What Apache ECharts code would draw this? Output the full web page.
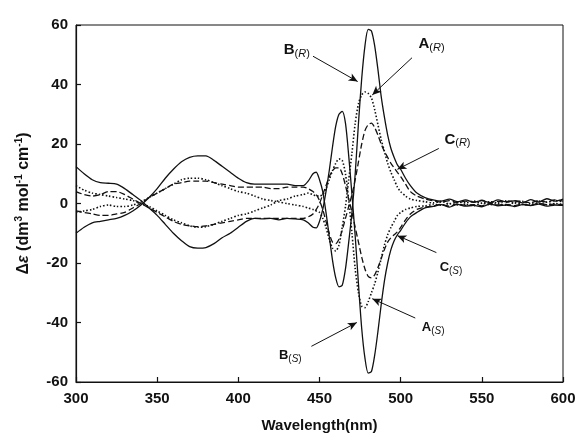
<!DOCTYPE html>
<html>
<head>
<meta charset="utf-8">
<script src="https://cdn.jsdelivr.net/npm/echarts@6/dist/echarts.min.js"></script>
<style>html,body{margin:0;padding:0;background:#fff;}#c{width:579px;height:438px;}</style>
</head>
<body>
<div id="c"></div>
<script>
// Wavelength (nm)
const wavelengths = [
  300,305,310,315,320,325,330,335,340,345,350,355,360,365,370,375,380,385,390,395,400,405,410,415,420,425,430,435,440,
  443,446,448,
  450,452,454,456,458,460,462,464,466,468,470,472,474,476,478,480,482,484,486,488,490,492,494,496,498,500,
  503,506,510,
  515,520,525,530,535,540,545,550,555,560,565,570,575,580,585,590,595,600
];
// Solid lines
const B_R = [
  -10,-8,-6.5,-6,-5.5,-5,-4,-2.5,-0.5,2,5,8.5,11.5,14,15.5,16,16,14.5,12.5,10.5,8.5,7,6.5,6.5,6.5,6.5,6.5,6,6,
  7.5,10,10.5,
  8,4,-3,-11,-19,-25,-28,-27.5,-22,-13,-3,10,27,42,53,58.5,58,53,45,36,29,23,18.5,15.5,13,11.5,
  8.5,6,3.5,
  2,1.2,0.8,1.5,0.6,1.2,0.4,1.0,0.3,1.2,0.6,0.9,0.2,1.3,0.5,1.6,0.8,1.5
];
const B_S = [
  12.4,10,8,7,6.8,6.5,5,3,1,-1.5,-4,-7,-10,-12.5,-14.5,-15,-14.8,-13.5,-11.5,-10,-8,-6,-5,-5.2,-5,-5.5,-5,-5.2,-5.5,
  -6.5,-8,-8.2,
  -6,-2,4,11,19,26,30,31,27,16,3,-11,-27,-42,-52,-57,-56.5,-51,-43,-34,-26,-20,-15.5,-12.5,-10.5,-9,
  -6.5,-4.5,-3,
  -1.5,-1.0,-0.4,-1.2,-0.3,-0.9,-0.6,-1.1,-0.2,-0.8,-0.5,-1.0,-0.4,-0.7,-0.2,-0.9,-0.5,-0.6
];
// Dotted lines
const A_R = [
  -3,-2.5,-2,-1,-0.5,-1,-1,-0.5,0.5,2,3.5,5,6.5,8,8.5,8.5,8,7,6,5,4,3.5,2.5,1.5,1,0.5,0,-0.5,-1,
  -1.5,-2,-2.5,
  -3,-5,-8,-12,-15,-16,-14,-8,-1,8,17,27,33.5,36.5,37.5,37,35.5,31.5,26.5,21.5,17.5,13.5,10.5,8,5.5,4,
  2.5,1.5,1,
  0.6,0.2,0.7,-0.1,0.5,0.3,0.8,0.1,0.6,0.2,0.9,0.3,0.7,0.0,0.8,0.4,1.0,0.5
];
const A_S = [
  6,4.5,3.5,3,2.5,2,1.5,1,0,-1,-2.5,-4,-5.5,-6.5,-7.5,-8,-7.8,-7,-6,-5,-4,-3.5,-2.5,-1.5,-0.5,1,1.5,2.5,3,
  3.5,3,2.5,
  2.5,3,5,8,11,13.5,15,14.5,10,1,-10,-22,-30,-34.5,-35,-33,-30,-27,-23,-18.5,-14,-10.5,-8,-6,-4,-3,
  -2,-1.5,-1,
  -0.8,-0.3,-0.6,0.0,-0.5,-0.2,-0.7,0.1,-0.4,-0.1,-0.6,0.2,-0.3,-0.5,0.1,-0.4,0.0,-0.3
];
// Dashed lines
const C_R = [
  -2.5,-3,-3.5,-4,-4,-3.5,-3,-1.5,0,2,3.5,5,6.5,7,7.5,7.5,7.5,7,6.5,6,5.5,5.5,5.5,5.5,5,5,5.5,5.5,5.5,
  5,4,3,
  1,-2,-6,-10,-13,-13.5,-12,-9,-5,-1,3,8,14,20,24.5,26.5,27,25.5,23,20,17.5,15.5,13.5,12,10.5,9,
  6.5,4,2.5,
  1.5,0.9,0.4,1.0,0.3,0.8,0.5,1.1,0.2,0.7,0.4,1.0,0.6,0.3,0.9,0.5,1.2,0.8
];
const C_S = [
  4,3,2.5,3,4,4,3,1.5,0,-1.5,-3,-4.5,-6,-7,-7.5,-7.8,-7.5,-7,-6.5,-6,-5.5,-5,-5,-5,-5,-5,-5,-5,-5,
  -4.5,-3.5,-2,
  0,3,6,9,11,12,12,10,6,1.5,-3,-8,-13,-18,-22,-24.5,-25,-24,-21.5,-18.5,-15.5,-13,-11.5,-10.5,-9.5,-8,
  -5.5,-3.5,-2,
  -1.2,-0.8,-0.3,-0.9,-0.1,-0.6,-0.4,-0.8,0.0,-0.5,-0.3,-0.7,-0.2,-0.6,0.1,-0.4,-0.2,-0.5
];
const xTicks = [300, 350, 400, 450, 500, 550, 600];
const yTicks = [-60, -40, -20, 0, 20, 40, 60];

// Annotation labels
const labelNames = ['B', 'A', 'C', 'C', 'A', 'B'];
const labelConfigs = ['R', 'R', 'R', 'S', 'S', 'S'];
const labelPos = [[436, 51.5], [519, 53.5], [535, 21.5], [531, -21.5], [520, -41.5], [432, -51]];
// Arrows: [fromX, fromY, toX, toY]
const arrows = [
  [446, 49.5, 473.5, 41],
  [507, 49, 482.5, 36.5],
  [523.5, 18.5, 498, 11.5],
  [522, -16.5, 498, -10.8],
  [509, -38.5, 482.5, -32],
  [445, -48, 473, -40]
];

const toPairs = v => wavelengths.map((w, i) => [w, v[i]]);
const chart = echarts.init(document.getElementById('c'), null, {renderer: 'canvas'});
const FONT = 'Liberation Sans, Arial, Helvetica, sans-serif';

function lineSeries(name, vals, type, width) {
  return {
    name, type: 'line', data: toPairs(vals), showSymbol: false, smooth: 0.25,
    lineStyle: {color: '#111', width: width, type: type},
    animation: false, silent: true, z: 3
  };
}

const series = [
  lineSeries('B(R)', B_R, 'solid', 1.3),
  lineSeries('B(S)', B_S, 'solid', 1.3),
  lineSeries('A(R)', A_R, [1.5, 2], 1.6),
  lineSeries('A(S)', A_S, [1.5, 2], 1.6),
  lineSeries('C(R)', C_R, [6, 3], 1.3),
  lineSeries('C(S)', C_S, [6, 3], 1.3)
];

const big = [true, true, true, false, false, false];
series[0].markLine = {
  silent: true, animation: false,
  symbol: ['none', 'arrow'], symbolSize: [6, 9],
  lineStyle: {color: '#111', width: 1, type: 'solid'},
  label: {show: false},
  data: arrows.map(a => [{coord: [a[0], a[1]]}, {coord: [a[2], a[3]]}])
};
series[0].markPoint = {
  silent: true, animation: false,
  symbol: 'circle', symbolSize: 0,
  itemStyle: {color: 'rgba(0,0,0,0)'},
  data: labelPos.map((p, i) => ({
    coord: p,
    label: {
      show: true, position: 'inside',
      formatter: '{m|' + labelNames[i] + '}{s|(}{i|' + labelConfigs[i] + '}{s|)}',
      rich: {
        m: {fontFamily: FONT, fontWeight: 'bold', fontSize: big[i] ? 15 : 13, color: '#111', lineHeight: 18},
        s: {fontFamily: FONT, fontSize: big[i] ? 11 : 10, color: '#111', lineHeight: 11, verticalAlign: 'bottom'},
        i: {fontFamily: FONT, fontStyle: 'italic', fontSize: big[i] ? 11 : 10, color: '#111', lineHeight: 11, verticalAlign: 'bottom'}
      }
    }
  }))
};

chart.setOption({
  backgroundColor: '#fff',
  animation: false,
  grid: {left: 76, right: 16, top: 25, bottom: 56, show: true, borderColor: '#111', borderWidth: 1, backgroundColor: 'transparent'},
  xAxis: {
    type: 'value', min: xTicks[0], max: xTicks[xTicks.length - 1], interval: 50,
    name: 'Wavelength(nm)', nameLocation: 'middle', nameGap: 36,
    nameTextStyle: {fontFamily: FONT, fontWeight: 'bold', fontSize: 15, color: '#111'},
    axisLine: {show: true, onZero: false, lineStyle: {color: '#111', width: 1.2}},
    axisTick: {show: true, inside: true, length: 5, lineStyle: {color: '#111', width: 1.2}},
    axisLabel: {fontFamily: FONT, fontWeight: 'bold', fontSize: 15, color: '#111', margin: 9},
    splitLine: {show: false}
  },
  yAxis: {
    type: 'value', min: yTicks[0], max: yTicks[yTicks.length - 1], interval: 20,
    name: '{g|Δ}{e|ε}{g| (dm}{p|3}{g| mol}{p|-1}{g| cm}{p|-1}{g|)}',
    nameLocation: 'middle', nameGap: 42, nameRotate: 90,
    nameTextStyle: {
      rich: {
        g: {fontFamily: FONT, fontWeight: 'bold', fontSize: 16, color: '#111', lineHeight: 20},
        e: {fontFamily: FONT, fontStyle: 'italic', fontWeight: 'bold', fontSize: 16, color: '#111', lineHeight: 20},
        p: {fontFamily: FONT, fontWeight: 'bold', fontSize: 10, color: '#111', lineHeight: 11, verticalAlign: 'top'}
      }
    },
    axisLine: {show: true, onZero: false, lineStyle: {color: '#111', width: 1.2}},
    axisTick: {show: true, inside: true, length: 5, lineStyle: {color: '#111', width: 1.2}},
    axisLabel: {fontFamily: FONT, fontWeight: 'bold', fontSize: 15, color: '#111', margin: 8},
    splitLine: {show: false}
  },
  series: series
});
</script>
</body>
</html>
